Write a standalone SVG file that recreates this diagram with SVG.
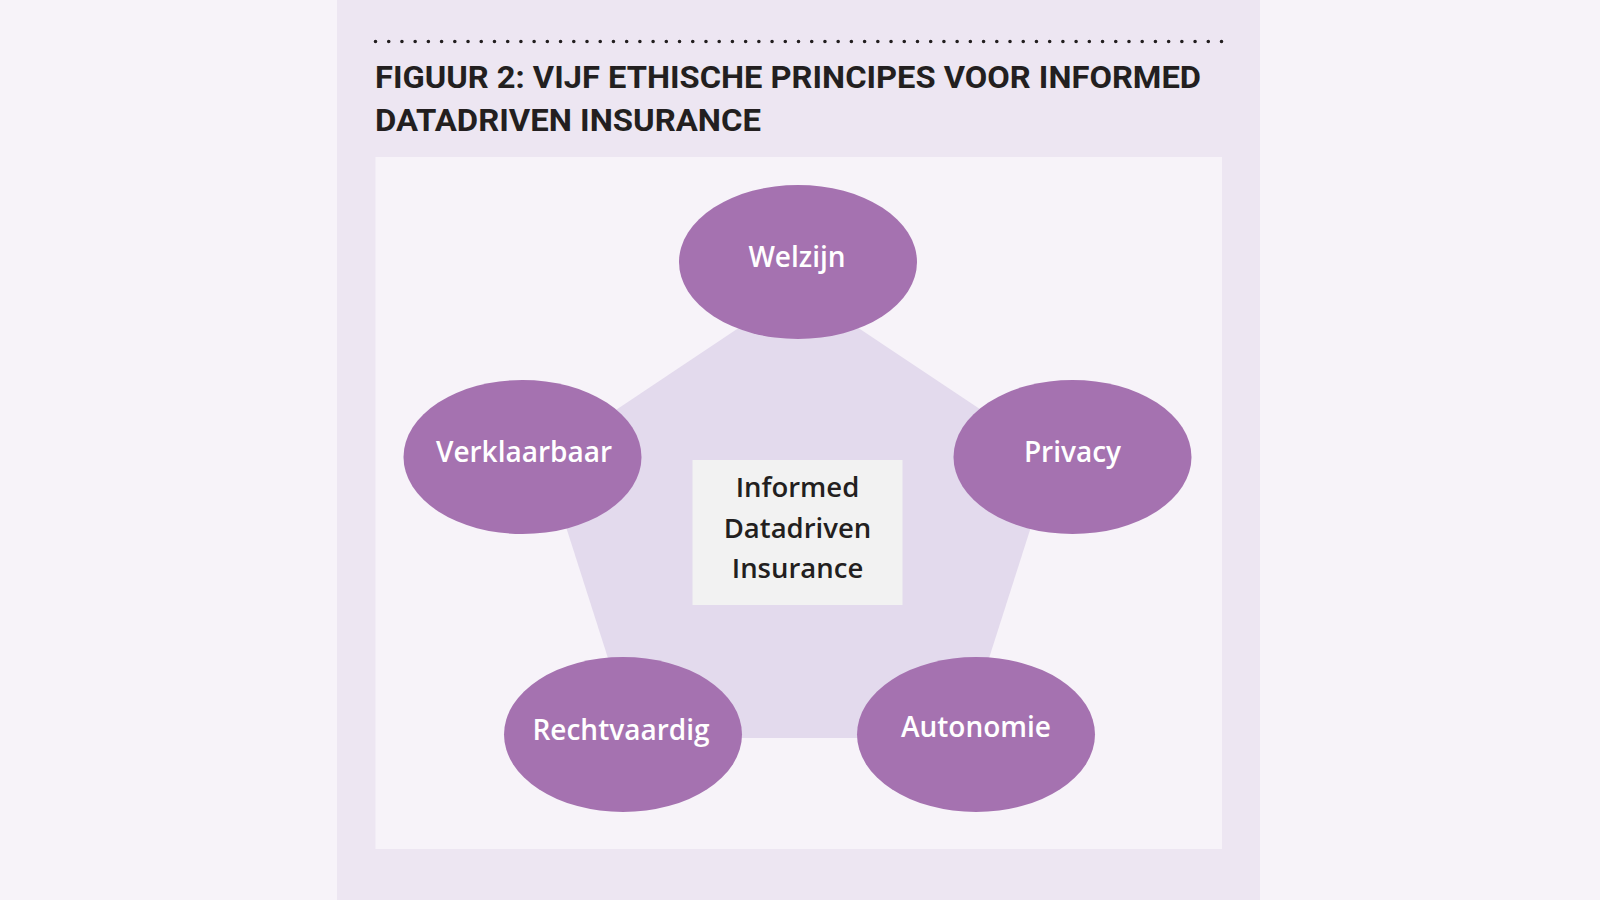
<svg xmlns="http://www.w3.org/2000/svg" width="1600" height="900" viewBox="0 0 1600 900">
  <style>
    .title { font-family: Roboto, "Liberation Sans", sans-serif; font-weight: 700; font-size: 32px; fill: #231f20; }
    .node ellipse { fill: #a572b0; }
    .node text { font-family: "Open Sans", "Noto Sans", "Liberation Sans", sans-serif; font-weight: 600; font-size: 28px; fill: #ffffff; text-anchor: middle; }
    .center text { font-family: "Open Sans", "Noto Sans", "Liberation Sans", sans-serif; font-weight: 600; font-size: 27.5px; fill: #231f20; text-anchor: middle; }
  </style>
  <rect x="0" y="0" width="1600" height="900" fill="#f7f3f9"/>
  <rect x="337" y="0" width="923" height="900" fill="#ede6f2"/>
  <line x1="375.5" y1="41.5" x2="1223" y2="41.5" stroke="#231f20" stroke-width="3.6" stroke-linecap="round" stroke-dasharray="0 13.219"/>
  <text class="title" x="375" y="87.5" textLength="826" lengthAdjust="spacingAndGlyphs">FIGUUR 2: VIJF ETHISCHE PRINCIPES VOOR INFORMED</text>
  <text class="title" x="375" y="130.5" textLength="386" lengthAdjust="spacingAndGlyphs">DATADRIVEN INSURANCE</text>
  <rect x="375.5" y="157" width="846.5" height="692" fill="#f7f3f9"/>
  <g id="connectors">
    <polygon points="798.5,288 1053,458 963.5,738 633.5,738 544,458" fill="#e3daed"/>
  </g>
  <g id="center" class="center">
    <rect x="692.5" y="460" width="210" height="145" fill="#f2f2f2"/>
    <text x="797.5" y="496.5">Informed</text>
    <text x="797.5" y="537.5">Datadriven</text>
    <text x="797.5" y="578">Insurance</text>
  </g>
  <g id="welzijn" class="node">
    <ellipse cx="798" cy="262" rx="119" ry="77"/>
    <text x="797" y="267">Welzijn</text>
  </g>
  <g id="verklaarbaar" class="node">
    <ellipse cx="522.5" cy="457" rx="119" ry="77"/>
    <text x="524" y="461.5">Verklaarbaar</text>
  </g>
  <g id="privacy" class="node">
    <ellipse cx="1072.5" cy="457" rx="119" ry="77"/>
    <text x="1072.5" y="461.5">Privacy</text>
  </g>
  <g id="rechtvaardig" class="node">
    <ellipse cx="623" cy="734.5" rx="119" ry="77.5"/>
    <text x="621" y="740">Rechtvaardig</text>
  </g>
  <g id="autonomie" class="node">
    <ellipse cx="976" cy="734.5" rx="119" ry="77.5"/>
    <text x="976" y="736.5">Autonomie</text>
  </g>
</svg>
